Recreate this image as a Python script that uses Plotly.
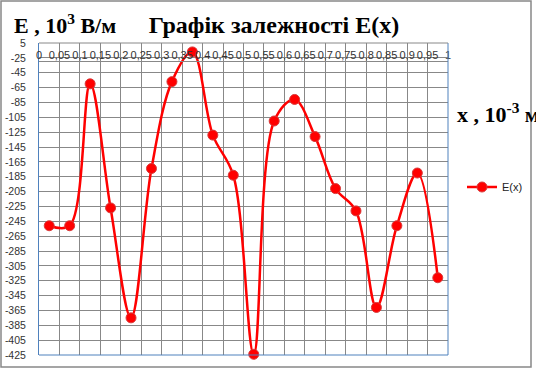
import plotly.graph_objects as go

# data
x_vals = [0.025, 0.075, 0.125, 0.175, 0.225, 0.275, 0.325, 0.375, 0.425, 0.475,
          0.525, 0.575, 0.625, 0.675, 0.725, 0.775, 0.825, 0.875, 0.925, 0.975]
e_vals = [-251, -251, -60, -227, -375, -174, -57, -17, -129, -183,
          -424, -110, -81, -131, -201, -231, -361, -251, -180, -321]

x_tickvals = [0, 0.05, 0.1, 0.15, 0.2, 0.25, 0.3, 0.35, 0.4, 0.45, 0.5,
              0.55, 0.6, 0.65, 0.7, 0.75, 0.8, 0.85, 0.9, 0.95, 1]
x_ticktext = ["0", "0,05", "0,1", "0,15", "0,2", "0,25", "0,3", "0,35", "0,4", "0,45", "0,5",
              "0,55", "0,6", "0,65", "0,7", "0,75", "0,8", "0,85", "0,9", "0,95", "1"]
y_tickvals = [-5, -25, -45, -65, -85, -105, -125, -145, -165, -185, -205,
              -225, -245, -265, -285, -305, -325, -345, -365, -385, -405, -425]
y_ticktext = ["5", "-25", "-45", "-65", "-85", "-105", "-125", "-145", "-165", "-185", "-205",
              "-225", "-245", "-265", "-285", "-305", "-325", "-345", "-365", "-385", "-405", "-425"]

series_name = "E(x)"
chart_title = "Графік залежності E(x)"
y_title = "E , 10<sup>3</sup> В/м"
x_title = "x , 10<sup>-3</sup> м"

W, H = 536, 369
L, R, T, B = 39, 88, 43, 14
plot_h = H - T - B
plot_w = W - L - R

def px(xp):
    return (xp - L) / plot_w

def py(yp):
    return (H - B - yp) / plot_h

fig = go.Figure()
fig.add_trace(go.Scatter(
    x=x_vals, y=e_vals, name=series_name, mode="lines+markers",
    line=dict(color="#ff0000", width=2.5, shape="spline", smoothing=1.0),
    marker=dict(color="#ff0000", size=10, line=dict(color="#d83a3a", width=1)),
    cliponaxis=False,
))

serif = "'Liberation Serif', 'Times New Roman', serif"
sans = "'Liberation Sans', Arial, sans-serif"

fig.update_layout(
    width=W, height=H,
    margin=dict(l=L, r=R, t=T, b=B, autoexpand=False),
    paper_bgcolor="white", plot_bgcolor="white",
    title=dict(text="<b>" + chart_title + "</b>", x=274 / W, xanchor="center", xref="container",
               y=(H - 25) / H, yanchor="middle", yref="container",
               font=dict(family=serif, size=24, color="black")),
    showlegend=True,
    legend=dict(x=px(462), y=py(187), xanchor="left", yanchor="middle",
                font=dict(family=sans, size=11, color="#222"),
                bgcolor="rgba(0,0,0,0)", itemwidth=30),
    xaxis=dict(range=[0, 1], tickvals=x_tickvals, ticktext=x_ticktext,
               showgrid=True, gridcolor="#888888", gridwidth=1,
               anchor="free", position=py(61), showline=True, linecolor="#888888",
               ticks="", tickangle=0, ticklabelstandoff=-16, automargin=False,
               tickfont=dict(family=sans, size=11, color="#333"),
               zeroline=False),
    yaxis=dict(range=[-425, -5], tickvals=y_tickvals, ticktext=y_ticktext,
               showgrid=True, gridcolor="#888888", gridwidth=1,
               showline=True, linecolor="#4f81bd", linewidth=1,
               ticks="", ticklabelstandoff=10, automargin=False,
               tickfont=dict(family=sans, size=10.5, color="#333"),
               zeroline=False),
)

# plot-area borders
fig.add_shape(type="line", xref="x domain", yref="y domain", x0=0, x1=1, y0=0, y1=0,
              line=dict(color="#4f81bd", width=1))
fig.add_shape(type="line", xref="x domain", yref="y domain", x0=1, x1=1, y0=0, y1=1,
              line=dict(color="#4f81bd", width=1))
fig.add_shape(type="line", xref="x domain", yref="y domain", x0=0, x1=1, y0=1, y1=1,
              line=dict(color="#888888", width=1))
# chart border
fig.add_shape(type="rect", xref="paper", yref="paper",
              x0=px(1), x1=px(531), y0=py(367), y1=py(1),
              line=dict(color="#888888", width=1.5), layer="below")

fig.add_annotation(text="<b>" + y_title + "</b>", xref="paper", yref="paper", x=px(12), y=py(24),
                   xanchor="left", yanchor="middle", showarrow=False,
                   font=dict(family=serif, size=22, color="black"))
fig.add_annotation(text="<b>" + x_title + "</b>", xref="paper", yref="paper", x=px(455), y=py(113),
                   xanchor="left", yanchor="middle", showarrow=False,
                   font=dict(family=serif, size=22, color="black"))

fig.write_html("out.html", config={"displayModeBar": False},
               post_script="document.body.style.margin='0';")
